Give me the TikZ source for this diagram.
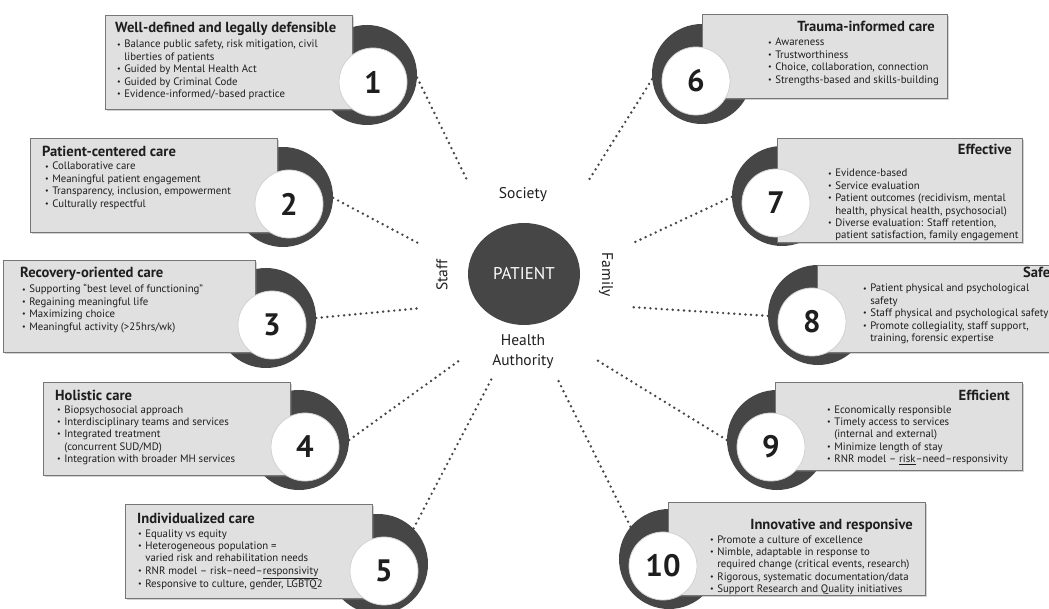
\documentclass[tikz,border=0pt]{standalone}
\usepackage{fontspec}
\setmainfont{PT Sans}
\usetikzlibrary{shapes.geometric,shadows}
\definecolor{ring}{HTML}{464646}
\definecolor{boxfill}{HTML}{E0E0E0}
\definecolor{boxline}{HTML}{767676}
\definecolor{txt}{HTML}{1E1E1E}
\newcommand{\bt}{\raisebox{0.15ex}{\fontsize{8}{8}\selectfont\textbullet}}
\newcommand{\blist}[1]{\fontsize{10.8}{12.4}\selectfont\begin{tabular}[t]{@{}l@{\hspace{3.5pt}}l@{}}#1\end{tabular}}
\tikzset{
 ringc/.style={circle, fill=ring, minimum size=100pt, inner sep=0pt},
 whitec/.style={circle, fill=white, draw=gray!35, line width=0.8pt, minimum size=68pt, inner sep=0pt, font=\fontsize{31}{31}\selectfont\bfseries, text=txt},
 boxr/.style={fill=boxfill, draw=boxline, line width=1pt, anchor=north west, inner sep=0pt, drop shadow={opacity=0.35, shadow xshift=1.2pt, shadow yshift=-1.2pt}},
 ttlL/.style={font=\fontsize{14.6}{16}\selectfont\bfseries, text=txt, inner sep=0pt, anchor=base west},
 ttlR/.style={font=\fontsize{14.6}{16}\selectfont\bfseries, text=txt, inner sep=0pt, anchor=base east},
 lst/.style={text=txt, inner sep=0pt, anchor=base west},
 conn/.style={line width=2.7pt, dash pattern=on 0pt off 5.6pt, line cap=round, draw=ring},
 lbl/.style={font=\fontsize{15.5}{20}\selectfont, text=txt, inner sep=0pt}
}
\begin{document}
\begin{tikzpicture}[x=1pt,y=-1pt]
\useasboundingbox (0,0) rectangle (1049,609);
\fill[white] (0,0) rectangle (1049,609);
\clip (0,0) rectangle (1049,609);

% dark rings
\node[ringc] (d1) at (367,75) {};
\node[ringc] (d2) at (283,197) {};
\node[ringc] (d3) at (266,318) {};
\node[ringc] (d4) at (299,440) {};
\node[ringc] (d5) at (378,564) {};
\node[ringc] (d6) at (702,74) {};
\node[ringc] (d7) at (782,196) {};
\node[ringc] (d8) at (818,315) {};
\node[ringc] (d9) at (777,440) {};
\node[ringc] (d10) at (669,559) {};

% boxes
\node[boxr, minimum width=247pt, minimum height=94pt] (b1) at (105,15) {};
\node[boxr, minimum width=247pt, minimum height=94pt] (b2) at (30,138) {};
\node[boxr, minimum width=252pt, minimum height=92pt] (b3) at (3,260) {};
\node[boxr, minimum width=247pt, minimum height=93pt] (b4) at (43,382) {};
\node[boxr, minimum width=247pt, minimum height=94pt] (b5) at (125,504) {};
\node[boxr, minimum width=245pt, minimum height=84pt] (b6) at (702,14) {};
\node[boxr, minimum width=245pt, minimum height=104pt] (b7) at (777,138) {};
\node[boxr, minimum width=245pt, minimum height=87pt] (b8) at (817,265) {};
\node[boxr, minimum width=247pt, minimum height=88pt] (b9) at (775,382) {};
\node[boxr, minimum width=257pt, minimum height=93pt] (b10) at (668,502) {};

% white number circles
\node[whitec] (w1) at (373,82) {1};
\node[whitec] (w2) at (289,204) {2};
\node[whitec] (w3) at (272,325) {3};
\node[whitec] (w4) at (305,447) {4};
\node[whitec] (w5) at (384,571) {5};
\node[whitec] (w6) at (696,81) {6};
\node[whitec] (w7) at (776,203) {7};
\node[whitec] (w8) at (812,322) {8};
\node[whitec] (w9) at (771,447) {9};
\node[whitec] (w10) at (663,566) {10};

% box texts
\node[ttlL] (t1) at (115,33) {Well-defined and legally defensible};
\node[lst] (l1) at (117,48) {\blist{\bt & Balance public safety, risk mitigation, civil\\ & liberties of patients\\ \bt & Guided by Mental Health Act\\ \bt & Guided by Criminal Code\\ \bt & Evidence-informed/-based practice}};

\node[ttlL] (t2) at (42,157) {Patient-centered care};
\node[lst] (l2) at (45,170) {\blist{\bt & Collaborative care\\ \bt & Meaningful patient engagement\\ \bt & Transparency, inclusion, empowerment\\ \bt & Culturally respectful}};

\node[ttlL] (t3) at (20,278) {Recovery-oriented care};
\node[lst] (l3) at (22,293) {\blist{\bt & Supporting “best level of functioning”\\ \bt & Regaining meaningful life\\ \bt & Maximizing choice\\ \bt & Meaningful activity (>25hrs/wk)}};

\node[ttlL] (t4) at (55,400) {Holistic care};
\node[lst] (l4) at (57,413) {\blist{\bt & Biopsychosocial approach\\ \bt & Interdisciplinary teams and services\\ \bt & Integrated treatment\\ & (concurrent SUD/MD)\\ \bt & Integration with broader MH services}};

\node[ttlL] (t5) at (137,523) {Individualized care};
\node[lst] (l5) at (138,537) {\blist{\bt & Equality vs equity\\ \bt & Heterogeneous population =\\ & varied risk and rehabilitation needs\\ \bt & RNR model – risk–need–\underline{responsivity}\\ \bt & Responsive to culture, gender, LGBTQ2}};

\node[ttlR] (t6) at (935,32) {Trauma-informed care};
\node[lst] (l6) at (768,46) {\blist{\bt & Awareness\\ \bt & Trustworthiness\\ \bt & Choice, collaboration, connection\\ \bt & Strengths-based and skills-building}};

\node[ttlR] (t7) at (1012,155) {Effective};
\node[lst] (l7) at (828,177) {\blist{\bt & Evidence-based\\ \bt & Service evaluation\\ \bt & Patient outcomes (recidivism, mental\\ & health, physical health, psychosocial)\\ \bt & Diverse evaluation: Staff retention,\\ & patient satisfaction, family engagement}};

\node[ttlL] (t8) at (1023,278) {Safe};
\node[lst] (l8) at (863,292) {\blist{\bt & Patient physical and psychological\\ & safety\\ \bt & Staff physical and psychological safety\\ \bt & Promote collegiality, staff support,\\ & training, forensic expertise}};

\node[ttlR] (t9) at (1010,400) {Efficient};
\node[lst] (l9) at (827,413) {\blist{\bt & Economically responsible\\ \bt & Timely access to services\\ & (internal and external)\\ \bt & Minimize length of stay\\ \bt & RNR model – \underline{risk}–need–responsivity}};

\node[ttlR] (t10) at (913,529) {Innovative and responsive};
\node[lst] (l10) at (710,543) {\blist{\bt & Promote a culture of excellence\\ \bt & Nimble, adaptable in response to\\ & required change (critical events, research)\\ \bt & Rigorous, systematic documentation/data\\ \bt & Support Research and Quality initiatives}};

% centre
\node[ellipse, fill=ring, minimum width=112pt, minimum height=102pt, inner sep=0pt, text=white, font=\fontsize{17}{17}\selectfont] (pat) at (524,274) {PATIENT};
\node[lbl] (soc) at (523,195) {Society};
\node[lbl, rotate=90] (stf) at (442,275) {Staff};
\node[lbl, rotate=-90] (fam) at (606,275) {Family};
\node[lbl, align=center] (ha) at (523,352) {Health\\Authority};

% end points of dotted connectors
\coordinate (e1) at (467,180);
\coordinate (e2) at (418,243);
\coordinate (e3) at (422,308);
\coordinate (e4) at (460,360);
\coordinate (e5) at (492,378);
\coordinate (e6) at (587,183);
\coordinate (e7) at (633,243);
\coordinate (e8) at (630,307);
\coordinate (e9) at (595,359);
\coordinate (e10) at (557,378);

\draw[conn] (d1.-3) -- (e1);
\draw[conn] (d2.-1) -- (e2);
\draw[conn] (d3.0) -- (e3);
\draw[conn] (d4.0) -- (e4);
\draw[conn] (d5.45) -- (e5);
\draw[conn] (d6.186) -- (e6);
\draw[conn] (d7.181) -- (e7);
\draw[conn] (d8.181) -- (e8);
\draw[conn] (d9.180) -- (e9);
\draw[conn] (d10.140) -- (e10);
\end{tikzpicture}
\end{document}
